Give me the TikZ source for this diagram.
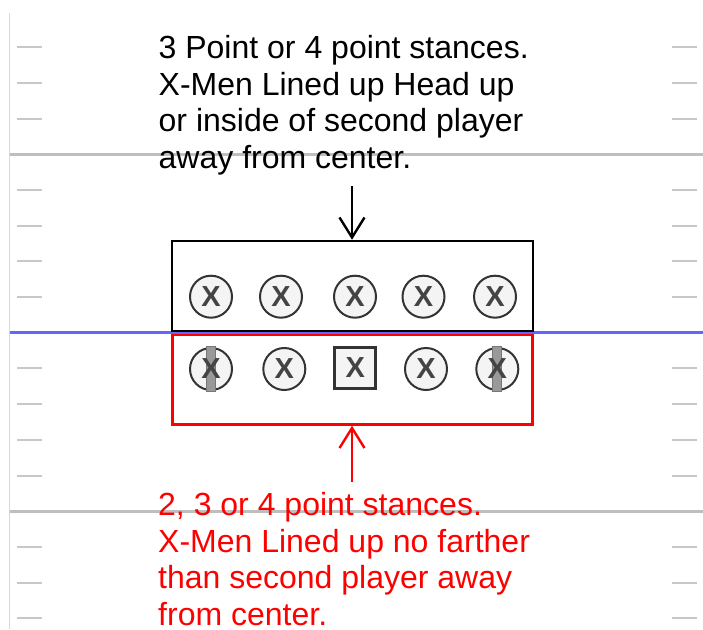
\documentclass[tikz,border=0pt]{standalone}
\usepackage{fontspec}
\setmainfont{Liberation Sans}
\usetikzlibrary{arrows.meta}
\definecolor{hashgray}{HTML}{C8C8C8}
\definecolor{yardgray}{HTML}{BEBEBE}
\definecolor{sidegray}{HTML}{D8D8D8}
\definecolor{scrimblue}{HTML}{6464FF}
\definecolor{pgray}{HTML}{333333}
\definecolor{pfill}{HTML}{F4F4F4}
\definecolor{xgray}{HTML}{444444}
\definecolor{barfill}{HTML}{999999}
\definecolor{barline}{HTML}{777777}
\definecolor{noteRed}{HTML}{FF0000}
\begin{document}
\begin{tikzpicture}[x=1pt,y=-1pt,
  hash/.style={draw=hashgray,line width=2pt},
  yardline/.style={draw=yardgray,line width=3pt},
  sideline/.style={draw=sidegray,line width=1pt},
  scrimline/.style={draw=scrimblue,line width=3pt},
  player/.style={circle,draw=pgray,line width=2pt,fill=pfill,minimum size=42pt,inner sep=0pt},
  centerman/.style={rectangle,draw=pgray,line width=3pt,fill=pfill,minimum size=41pt,inner sep=0pt},
  xmark/.style={inner sep=0pt,text=xgray,font=\fontsize{29}{29}\selectfont\bfseries},
  stancebar/.style={draw=barline,fill=barfill,line width=0.8pt},
  zonebox/.style={rectangle,line width=2.5pt,fill=white,inner sep=0pt},
  note/.style={align=left,inner sep=0pt,anchor=base west,font=\fontsize{32}{36.7}\selectfont},
  pointer/.style={line width=2.4pt,-{Straight Barb[length=20pt,width=25pt,line width=2.4pt]}}
]
\useasboundingbox (0,0) rectangle (703,629);

% field markings
\draw[sideline] (9.5,13) -- (9.5,629);
\foreach \y in {47.3,83,118.7,190,225.7,261.4,297,368.4,404,439.8,475.5,547,582.5,618}{
  \draw[hash] (17,\y) -- (42,\y);
  \draw[hash] (672,\y) -- (697,\y);
}
\draw[yardline] (10,154.3) -- (703,154.3);
\draw[yardline] (10,511) -- (703,511);
\draw[scrimline] (10,332.5) -- (703,332.5);

% alignment zones
\node[zonebox,draw=black,minimum width=361pt,minimum height=90pt] (dzone) at (352.5,286) {};
\node[zonebox,draw=noteRed,minimum width=360pt,minimum height=89.5pt] (ozone) at (352.7,379.75) {};

% defensive front
\foreach \x [count=\i] in {211,281,355,423.5,495}{
  \node[player] (d\i) at (\x,296.7) {};
  \node[xmark] (dx\i) at (d\i) {X};
}

% offensive line
\node[player] (o1) at (211,369) {};
\node[player] (o2) at (284.3,369) {};
\node[centerman] (o3) at (355.3,367.5) {};
\node[player] (o4) at (426,369) {};
\node[player] (o5) at (497.3,369) {};
\draw[stancebar] (206.5,346) rectangle (215.5,391);
\draw[stancebar] (492.8,346) rectangle (501.8,391);
\foreach \i in {1,...,5}{
  \node[xmark] (ox\i) at (o\i) {X};
}

% notes (anchored on the baseline of their last line)
\node[note] (topnote) at (158.5,168.6) {3 Point or 4 point stances.\\X-Men Lined up Head up\\or inside of second player\\away from center.};
\node[note,text=noteRed] (botnote) at (158,625.5) {2, 3 or 4 point stances.\\X-Men Lined up no farther\\than second player away\\from center.};

\coordinate (topstart) at (352,186);
\coordinate (botstart) at (352,482);
\draw[pointer,black] (topstart) -- (dzone.north -| topstart);
\draw[pointer,noteRed] (botstart) -- (ozone.south -| botstart);
\end{tikzpicture}
\end{document}
